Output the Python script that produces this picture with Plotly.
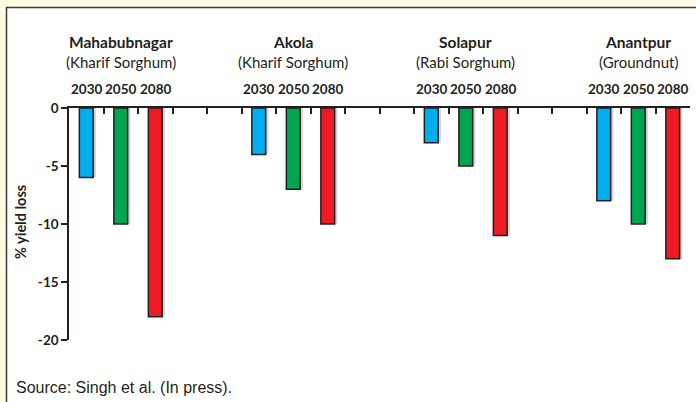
import plotly.graph_objects as go

# ---- data ----
sites = ["Mahabubnagar", "Akola", "Solapur", "Anantpur"]
crops = ["(Kharif Sorghum)", "(Kharif Sorghum)", "(Rabi Sorghum)", "(Groundnut)"]
years = ["2030", "2050", "2080"]
loss_2030 = [-6, -4, -3, -8]
loss_2050 = [-10, -7, -5, -10]
loss_2080 = [-18, -10, -11, -13]
y_ticks = [0, -5, -10, -15, -20]
source_text = "Source: Singh et al. (In press)."

series = [loss_2030, loss_2050, loss_2080]
colors = ["#00AEEF", "#00A651", "#ED1C24"]

W, H = 696, 402
L, R, T, B = 69, 6, 108, 62
plot_h = H - T - B
plot_w = W - L - R
slots = 5  # 3 bars + 2 gap slots per site
n_slots = len(sites) * slots - 2


def py(pix):
    return 1 + (T - pix) / plot_h


def px(pix):
    return (pix - L) / plot_w


fig = go.Figure()
bar_w = 0.4
for yi, (yr, vals, col) in enumerate(zip(years, series, colors)):
    xs = [si * slots + yi for si in range(len(sites))]
    # soft shadow
    fig.add_trace(go.Bar(x=xs, y=vals, width=bar_w, offset=-bar_w / 2 + 0.08,
                         marker=dict(color="#d4d4d4", line=dict(width=0)),
                         hoverinfo="skip", showlegend=False))
for yi, (yr, vals, col) in enumerate(zip(years, series, colors)):
    xs = [si * slots + yi for si in range(len(sites))]
    fig.add_trace(go.Bar(x=xs, y=vals, width=bar_w, offset=-bar_w / 2, name=yr,
                         marker=dict(color=col, line=dict(color="#231F20", width=1.5)),
                         showlegend=False))

ann = []
for si, (s, c) in enumerate(zip(sites, crops)):
    cx = si * slots + 1
    ann.append(dict(x=cx, y=py(42), xref="x", yref="paper", text="<b>%s</b>" % s,
                    showarrow=False, font=dict(size=15.5, color="#231F20", family="Lato"),
                    yanchor="middle"))
    ann.append(dict(x=cx, y=py(62), xref="x", yref="paper", text=c,
                    showarrow=False, font=dict(size=15, color="#231F20", family="Lato"),
                    yanchor="middle"))
    for yi, yr in enumerate(years):
        ann.append(dict(x=si * slots + yi, y=py(89), xref="x", yref="paper",
                        text="<b>%s</b>" % yr, showarrow=False,
                        font=dict(size=13.5, color="#231F20", family="Lato"),
                        yanchor="middle"))
ann.append(dict(x=px(20), y=py(222), xref="paper", yref="paper", text="<b>% yield loss</b>",
                textangle=-90, showarrow=False, xanchor="center", yanchor="middle",
                font=dict(size=14.5, color="#231F20", family="Lato")))
ann.append(dict(x=px(14), y=py(387), xref="paper", yref="paper", text=source_text,
                xanchor="left", yanchor="middle", showarrow=False,
                font=dict(size=16, color="#231F20", family="Liberation Sans")))

shapes = [dict(type="rect", xref="paper", yref="paper",
               x0=px(6.5), x1=px(W + 10), y0=py(H + 10), y1=py(7.5),
               fillcolor="white", line=dict(color="#3a3a3a", width=1.5), layer="below")]

fig.update_layout(
    width=W, height=H,
    margin=dict(l=L, r=R, t=T, b=B),
    paper_bgcolor="#FEFADF", plot_bgcolor="rgba(0,0,0,0)",
    barmode="overlay",
    annotations=ann, shapes=shapes,
    xaxis=dict(range=[-0.5, n_slots - 0.5], side="top", showgrid=False, zeroline=False,
               showline=True, linecolor="#231F20", linewidth=1.5,
               tickmode="array", tickvals=[i - 0.5 for i in range(n_slots + 1)],
               ticktext=[""] * (n_slots + 1), ticks="inside", ticklen=6,
               tickcolor="#231F20", tickwidth=1.5, showticklabels=False, fixedrange=True),
    yaxis=dict(range=[-20, 0], showgrid=False, zeroline=False, showline=True,
               linecolor="#231F20", linewidth=1.5, tickmode="array", tickvals=y_ticks,
               ticktext=["<b>%d</b>" % v for v in y_ticks], ticks="outside", ticklen=6,
               tickcolor="#231F20", tickwidth=1.5,
               tickfont=dict(size=13.5, color="#231F20", family="Lato"), fixedrange=True),
)

fig.write_html("out.html", config={"displayModeBar": False},
               post_script="document.body.style.margin='0';document.body.style.overflow='hidden';")
